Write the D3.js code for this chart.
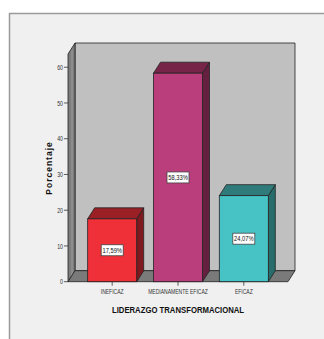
<!DOCTYPE html>
<html>
<head>
<meta charset="utf-8">
<script src="https://cdn.jsdelivr.net/npm/d3@7"></script>
<style>
  html, body { margin: 0; padding: 0; background: #fff; }
  svg { display: block; }
  .lbl { font-family: "Liberation Sans", Arial, sans-serif; }
  .bold { font-family: "Liberation Sans", Arial, sans-serif; font-weight: bold; }
</style>
</head>
<body>
<script>
// Data: percentage per leadership level
const categories = ["INEFICAZ", "MEDIANAMENTE EFICAZ", "EFICAZ"];
const percentages = [17.59, 58.33, 24.07];
const valueLabels = ["17,59%", "58,33%", "24,07%"];
const yTicks = [0, 10, 20, 30, 40, 50, 60];
const xTitle = "LIDERAZGO TRANSFORMACIONAL";
const yTitle = "Porcentaje";

const W = 324, H = 339;
const faces = [
  { front: "#ef3039", top: "#9a2026", side: "#7e1a1f" },
  { front: "#bb3e7c", top: "#762548", side: "#652040" },
  { front: "#47c3c6", top: "#2f7b7b", side: "#296c6c" }
];

const svg = d3.select("body").append("svg").attr("width", W).attr("height", H);

// outer panel
svg.append("rect").attr("x", 9.5).attr("y", 13.5).attr("width", W).attr("height", H)
  .attr("fill", "#f0f0f0").attr("stroke", "#9a9a9a").attr("stroke-width", 1.5);

// 3D geometry
const dx = 7, dy = -11;
const x0 = 68, x1 = 288;
const y = d3.scaleLinear().domain([0, 63.7]).range([281.7, 54]);
const x = d3.scaleBand().domain(categories).range([x0, x1])
  .paddingInner(0.2553).paddingOuter(0.299);
const yBase = y(0), yTop = y(63.7);

const poly = pts => pts.map(p => p.join(",")).join(" ");
// condensed text: horizontal squeeze around the anchor point
const narrowText = (sel, px, py, sx) => sel.attr("transform", `translate(${px},${py}) scale(${sx},1)`);

const g = svg.append("g");

// back wall
g.append("polygon")
  .attr("points", poly([[x0 + dx, yTop + dy], [x1 + dx, yTop + dy], [x1 + dx, yBase + dy], [x0 + dx, yBase + dy]]))
  .attr("fill", "#c0c0c0").attr("stroke", "#222").attr("stroke-width", 0.8);
// left wall
g.append("polygon")
  .attr("points", poly([[x0, yBase], [x0, yTop], [x0 + dx, yTop + dy], [x0 + dx, yBase + dy]]))
  .attr("fill", "#7c7c7c").attr("stroke", "#222").attr("stroke-width", 0.8);
g.append("line").attr("x1", x0 + 4).attr("x2", x0 + 4).attr("y1", yTop - 4).attr("y2", yBase - 5)
  .attr("stroke", "#939393").attr("stroke-width", 1.5);
// floor
g.append("polygon")
  .attr("points", poly([[x0, yBase], [x1, yBase], [x1 + dx, yBase + dy], [x0 + dx, yBase + dy]]))
  .attr("fill", "#7a7a7a").attr("stroke", "#222").attr("stroke-width", 0.8);

// bars
const bars = g.selectAll("g.bar").data(categories).join("g").attr("class", "bar");
bars.each(function (c, i) {
  const bx0 = x(c), bx1 = x(c) + x.bandwidth(), yt = y(percentages[i]);
  const sel = d3.select(this);
  sel.append("polygon")
    .attr("points", poly([[bx1, yt], [bx1 + dx, yt + dy], [bx1 + dx, yBase + dy], [bx1, yBase]]))
    .attr("fill", faces[i].side).attr("stroke", "#222").attr("stroke-width", 0.8);
  sel.append("polygon")
    .attr("points", poly([[bx0, yt], [bx1, yt], [bx1 + dx, yt + dy], [bx0 + dx, yt + dy]]))
    .attr("fill", faces[i].top).attr("stroke", "#222").attr("stroke-width", 0.8);
  sel.append("rect").attr("x", bx0).attr("y", yt).attr("width", x.bandwidth()).attr("height", yBase - yt)
    .attr("fill", faces[i].front).attr("stroke", "#222").attr("stroke-width", 0.8);

  // value label box
  const cx = bx0 + x.bandwidth() / 2, cy = (yt + yBase) / 2;
  sel.append("rect").attr("x", cx - 11).attr("y", cy - 5.5).attr("width", 22).attr("height", 11)
    .attr("fill", "#fff").attr("stroke", "#444").attr("stroke-width", 0.8);
  sel.append("text").attr("class", "lbl").call(narrowText, cx, cy + 2.6, 0.72)
    .attr("text-anchor", "middle").attr("font-size", 8).attr("fill", "#111")
    .text(valueLabels[i]);
});

// y axis ticks and labels
const ya = svg.append("g");
ya.selectAll("line").data(yTicks).join("line")
  .attr("x1", x0 - 4).attr("x2", x0).attr("y1", d => y(d)).attr("y2", d => y(d))
  .attr("stroke", "#333").attr("stroke-width", 0.8);
ya.selectAll("text").data(yTicks).join("text").attr("class", "lbl")
  .each(function (d) { narrowText(d3.select(this), x0 - 5, y(d) + 2.6, 0.7); })
  .attr("text-anchor", "end").attr("font-size", 7.5).attr("fill", "#333").text(d => d);

// x axis ticks and labels
const xa = svg.append("g");
xa.selectAll("line").data(categories).join("line")
  .attr("x1", d => x(d) + x.bandwidth() / 2).attr("x2", d => x(d) + x.bandwidth() / 2)
  .attr("y1", yBase).attr("y2", yBase + 4).attr("stroke", "#333").attr("stroke-width", 0.8);
xa.selectAll("text").data(categories).join("text").attr("class", "lbl")
  .each(function (d) { narrowText(d3.select(this), x(d) + x.bandwidth() / 2, yBase + 12.5, 0.72); })
  .attr("text-anchor", "middle").attr("font-size", 7).attr("fill", "#333").text(d => d);

// titles
svg.append("text").attr("class", "bold").call(narrowText, 178, 312.5, 0.86)
  .attr("text-anchor", "middle").attr("font-size", 9).attr("fill", "#111").text(xTitle);
svg.append("text").attr("class", "bold")
  .attr("transform", "translate(52,168) rotate(-90)")
  .attr("text-anchor", "middle").attr("font-size", 8.5).attr("letter-spacing", 1)
  .attr("fill", "#111").text(yTitle);
</script>
</body>
</html>
